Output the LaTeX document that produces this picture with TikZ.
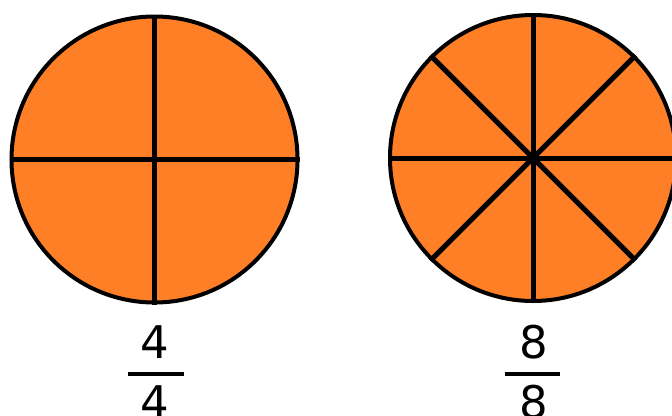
\documentclass[tikz,border=0pt]{standalone}
\usepackage{fontspec}
\setmainfont{DejaVu Sans}
\usepackage{tikz}
\usetikzlibrary{positioning, calc}
\definecolor{pieorange}{HTML}{FF7F27}

\begin{document}
\begin{tikzpicture}[
    x=1pt, y=-1pt,
    pie/.style={circle, draw=black, line width=4pt, fill=pieorange, minimum size=286pt, inner sep=0pt},
    cut/.style={line width=5pt, black},
    digit/.style={font=\fontsize{45}{45}\selectfont, anchor=base, inner sep=0pt},
    fracbar/.style={line width=4pt, black},
]
    \useasboundingbox (0,0) rectangle (672,415);

    % Pies
    \node[pie] (quarters) at (154.5,159.5) {};
    \node[pie] (eighths) at (533,158) {};

    % Cuts into quarters
    \draw[cut] (quarters.north) -- (quarters.south);
    \draw[cut] (quarters.west) -- (quarters.east);

    % Cuts into eighths
    \draw[cut] (eighths.north) -- (eighths.south);
    \draw[cut] (eighths.west) -- (eighths.east);
    \draw[cut] (eighths.45) -- (eighths.225);
    \draw[cut] (eighths.135) -- (eighths.315);

    % Fractions
    \node[digit] (num4) at (155,358) {4};
    \node[digit] (den4) at (155,418) {4};
    \draw[fracbar] (128,374) -- (184,374);

    \node[digit] (num8) at (534,358) {8};
    \node[digit] (den8) at (534,418) {8};
    \draw[fracbar] (505,374) -- (560,374);

\end{tikzpicture}
\end{document}
